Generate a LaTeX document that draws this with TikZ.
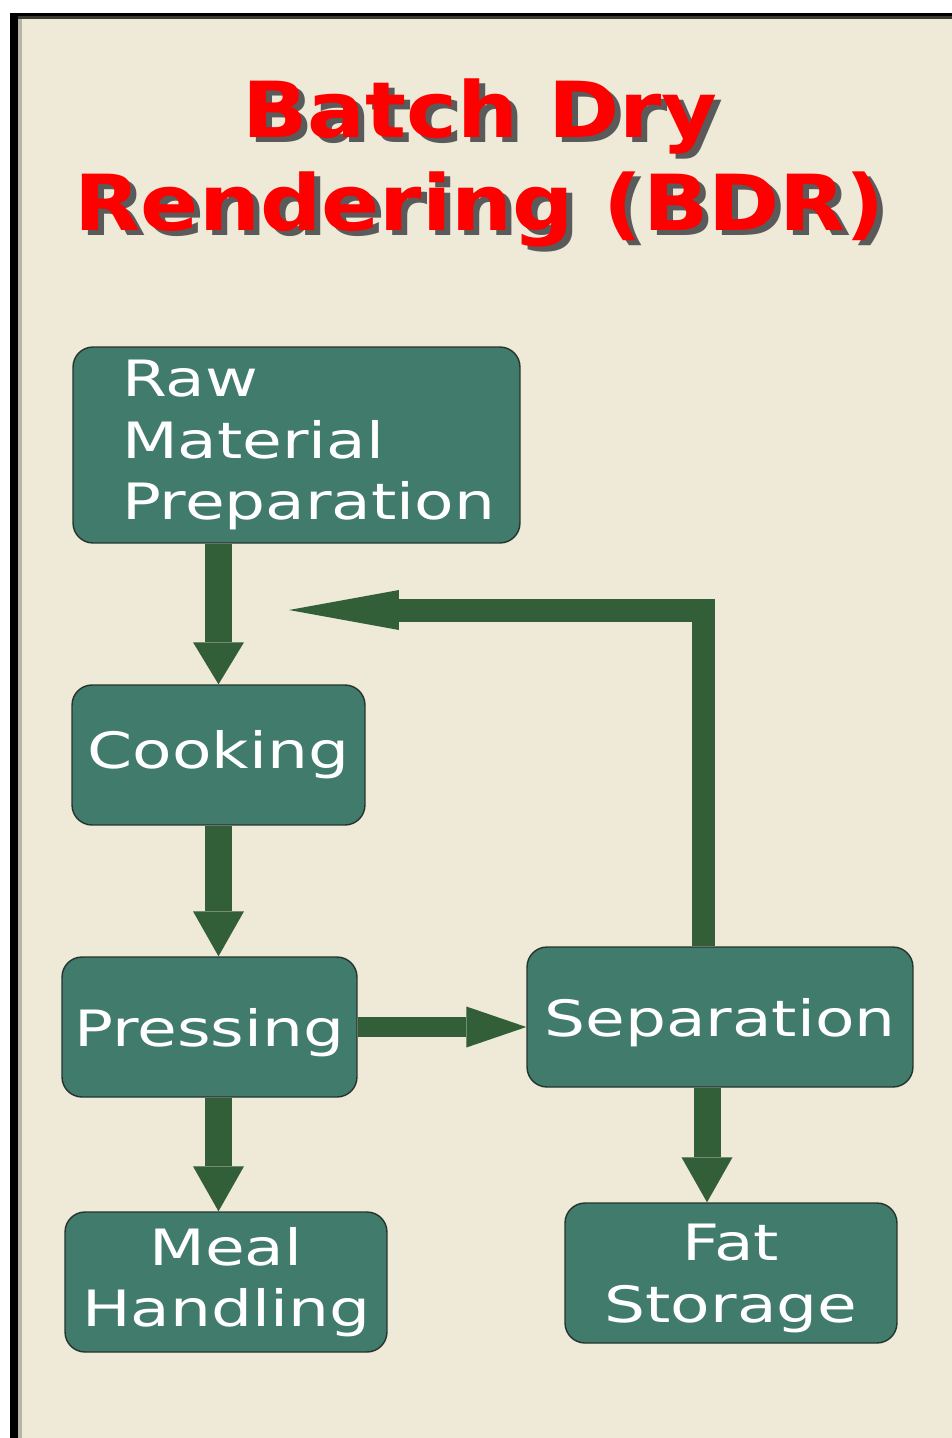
\documentclass[tikz,border=0pt]{standalone}
\usepackage{fontspec}
\usepackage{tikz}
\usetikzlibrary{arrows.meta,calc,positioning}
\newfontfamily\boxfont[FakeStretch=1.29]{DejaVu Sans}
\newfontfamily\titlefont[FakeStretch=1.11]{DejaVu Sans}
\definecolor{paper}{RGB}{239,233,215}
\definecolor{boxgreen}{RGB}{65,123,108}
\definecolor{boxedge}{RGB}{38,52,47}
\definecolor{flowgreen}{RGB}{50,94,56}
\definecolor{framegray}{RGB}{184,179,162}
\definecolor{topgray}{RGB}{58,58,51}
\definecolor{shadowgray}{RGB}{90,90,90}
\tikzset{
  stage/.style={rectangle, rounded corners=0.4cm, fill=boxgreen, draw=boxedge,
    line width=0.8pt, text=white, inner sep=0pt, minimum height=2.8cm,
    font=\boxfont\fontsize{28.5}{35}\selectfont},
  flow/.style={draw=flowgreen, line width=0.54cm,
    -{Triangle[length=0.9cm,width=1.02cm,line width=0pt]}},
  headline/.style={font=\titlefont\bfseries\fontsize{44}{53}\selectfont, align=center}
}

\begin{document}
\begin{tikzpicture}[x=0.02cm, y=-0.02cm]
  % page and frame
  \fill[white] (0,0) rectangle (952,1438);
  \fill[black] (10,13) rectangle (952,1438);
  \fill[topgray] (18,16) rectangle (952,19);
  \fill[framegray] (18,19) rectangle (22,1438);
  \fill[paper] (22,19) rectangle (952,1438);
  \useasboundingbox (0,0) rectangle (952,1438);
  % title
  \node[headline, text=shadowgray] (titleshadow) at (486,168) {Batch Dry\\Rendering (BDR)};
  \node[headline, text=red] (title) at (480,163) {Batch Dry\\Rendering (BDR)};
  % stages
  \node[stage, minimum height=3.92cm, align=left, text width=6.98cm, inner xsep=0.98cm] (raw) at (296.5,445) {Raw\\Material\\Preparation};
  \node[stage, minimum width=5.86cm] (cook) at (218.5,755) {Cooking};
  \node[stage, minimum width=5.9cm, text depth=0pt] (press) at (209.5,1027) {Pressing};
  \node[stage, minimum width=7.72cm, text depth=0pt] (sep) at (720,1017) {Separation};
  \node[stage, minimum width=6.44cm, align=center] (meal) at (226,1282) {Meal\\Handling};
  \node[stage, minimum width=6.64cm, align=center, text depth=0pt] (fat) at (731,1273) {Fat\\Storage};
  % arrows
  \draw[flow, -{Triangle[length=0.84cm,width=1.02cm,line width=0pt]}] (cook.north |- raw.south) -- (cook.north);
  \draw[flow] (cook.south) -- (cook.south |- press.north);
  \draw[flow] (press.south -| cook.south) -- (meal.north -| cook.south);
  \draw[flow, line width=0.4cm, -{Triangle[length=1.2cm,width=0.82cm,line width=0pt]}] (press.east) -- (press.east -| sep.west);
  \draw[flow] ([xshift=-0.26cm]sep.south) -- ([xshift=-0.26cm]sep.south |- fat.north);
  % back to cooking
  \coordinate (back) at (289,610);
  \draw[flow, line width=0.46cm, -{Triangle[length=2.2cm,width=0.8cm,line width=0pt]}] ([xshift=-0.34cm]sep.north) |- (back);
\end{tikzpicture}
\end{document}
